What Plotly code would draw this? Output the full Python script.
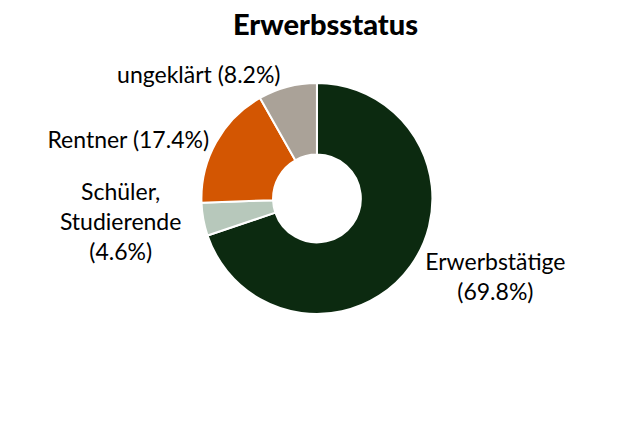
import plotly.graph_objects as go

# Erwerbsstatus, Anteile in %
labels = ["Erwerbstätige", "Schüler,<br>Studierende", "Rentner", "ungeklärt"]
values = [69.8, 4.6, 17.4, 8.2]
colors = ["#0c2a10", "#b7c8bb", "#d35602", "#aaa298"]
templates = [
    "%{label}<br>(%{percent:.1%})",
    "%{label}<br>(%{percent:.1%})",
    "%{label} (%{percent:.1%})",
    "%{label} (%{percent:.1%})",
]

fig = go.Figure(
    go.Pie(
        labels=labels,
        values=values,
        hole=0.38,
        sort=False,
        direction="clockwise",
        rotation=0,
        automargin=False,
        domain=dict(x=[0, 0.973], y=[0, 1]),
        marker=dict(colors=colors, line=dict(color="white", width=2)),
        textposition="outside",
        texttemplate=templates,
        textfont=dict(size=23, color="black"),
        showlegend=False,
    )
)

fig.update_layout(
    title=dict(
        text="Erwerbsstatus",
        x=0.5,
        xanchor="center",
        y=0.985,
        yanchor="top",
        font=dict(size=29, color="black", weight=900),
    ),
    font=dict(family="Lato, Noto Sans, sans-serif"),
    width=635,
    height=424,
    margin=dict(t=75, b=118, l=0, r=0, autoexpand=False),
    paper_bgcolor="white",
)

fig.write_html("out.html")
